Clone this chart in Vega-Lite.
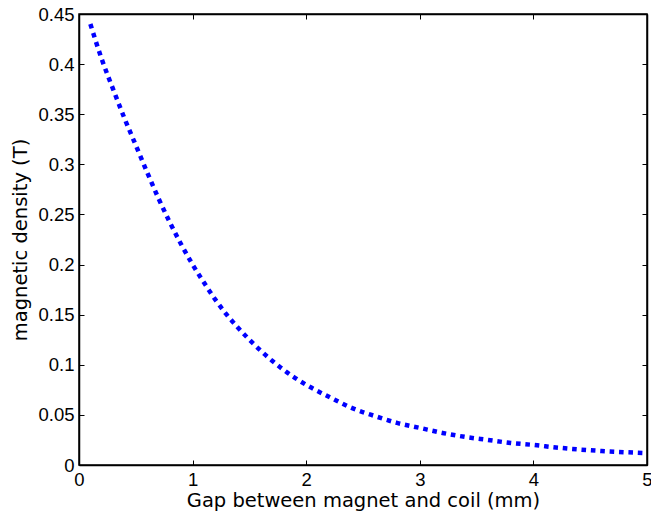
{
  "$schema": "https://vega.github.io/schema/vega-lite/v6.json",
  "autosize": {"type": "none"},
  "width": 568,
  "height": 451,
  "padding": {"left": 79, "top": 14, "right": 4, "bottom": 55},
  "background": "white",
  "config": {
    "view": {"stroke": "black", "strokeWidth": 1.5},
    "font": "Liberation Sans",
    "axis": {
      "grid": false,
      "domainColor": "black",
      "domainWidth": 1.5,
      "tickColor": "black",
      "tickWidth": 1,
      "tickSize": -5,
      "labelColor": "black",
      "labelFontSize": 18.5,
      "labelFont": "Liberation Sans",
      "titleFont": "DejaVu Sans",
      "titleFontSize": 19.5,
      "titleFontWeight": "normal",
      "titleColor": "black",
      "labelOverlap": false,
      "labelFlush": false,
      "labelBound": false
    }
  },
  "data": {
    "values": [
      {"gap": 0.1, "b": 0.44},
      {"gap": 0.2, "b": 0.405},
      {"gap": 0.3, "b": 0.375},
      {"gap": 0.4, "b": 0.346},
      {"gap": 0.5, "b": 0.319},
      {"gap": 0.6, "b": 0.292},
      {"gap": 0.7, "b": 0.266},
      {"gap": 0.8, "b": 0.242},
      {"gap": 0.9, "b": 0.22},
      {"gap": 1.0, "b": 0.2},
      {"gap": 1.1, "b": 0.182},
      {"gap": 1.2, "b": 0.165},
      {"gap": 1.3, "b": 0.15},
      {"gap": 1.4, "b": 0.137},
      {"gap": 1.5, "b": 0.125},
      {"gap": 1.6, "b": 0.114},
      {"gap": 1.7, "b": 0.104},
      {"gap": 1.8, "b": 0.095},
      {"gap": 1.9, "b": 0.087},
      {"gap": 2.0, "b": 0.08},
      {"gap": 2.2, "b": 0.068},
      {"gap": 2.4, "b": 0.057},
      {"gap": 2.6, "b": 0.049},
      {"gap": 2.8, "b": 0.042},
      {"gap": 3.0, "b": 0.037},
      {"gap": 3.2, "b": 0.032},
      {"gap": 3.4, "b": 0.028},
      {"gap": 3.6, "b": 0.025},
      {"gap": 3.8, "b": 0.022},
      {"gap": 4.0, "b": 0.02},
      {"gap": 4.2, "b": 0.0175},
      {"gap": 4.4, "b": 0.0155},
      {"gap": 4.6, "b": 0.014},
      {"gap": 4.8, "b": 0.0128},
      {"gap": 5.0, "b": 0.0118}
    ]
  },
  "layer": [
    {
      "mark": {"type": "line", "color": "#0000ff", "strokeWidth": 4.5, "strokeDash": [4.6, 4.8], "strokeCap": "butt", "interpolate": "monotone"},
      "encoding": {
        "x": {"field": "gap", "type": "quantitative", "scale": {"domain": [0, 5], "nice": false, "zero": false},
              "axis": {"orient": "bottom", "values": [0, 1, 2, 3, 4, 5], "labelPadding": 10, "title": "Gap between magnet and coil (mm)", "titlePadding": 3}},
        "y": {"field": "b", "type": "quantitative", "scale": {"domain": [0, 0.45], "nice": false},
              "axis": {"orient": "left", "values": [0, 0.05, 0.1, 0.15, 0.2, 0.25, 0.3, 0.35, 0.4, 0.45], "format": "~g", "labelPadding": 10, "title": "magnetic density (T)", "titlePadding": 7}}
      }
    },
    {
      "mark": {"type": "line", "opacity": 0},
      "encoding": {
        "x": {"field": "gap", "type": "quantitative",
              "axis": {"orient": "top", "values": [0, 1, 2, 3, 4, 5], "labels": false, "title": null}},
        "y": {"field": "b", "type": "quantitative",
              "axis": {"orient": "right", "values": [0, 0.05, 0.1, 0.15, 0.2, 0.25, 0.3, 0.35, 0.4, 0.45], "labels": false, "title": null}}
      }
    }
  ],
  "resolve": {"axis": {"x": "independent", "y": "independent"}}
}
